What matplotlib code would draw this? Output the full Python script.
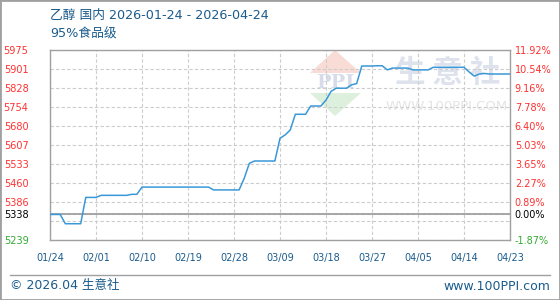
import matplotlib
matplotlib.use('Agg')
import matplotlib.pyplot as plt
from matplotlib.patches import Polygon, Rectangle
from matplotlib.lines import Line2D

plt.rcParams['font.family'] = ['DejaVu Sans', 'Noto Sans CJK SC']

# daily price, 01/24 .. 04/24
base_price = 5338
prices = [5338, 5338, 5338, 5302, 5302, 5302, 5302, 5404, 5404, 5404,
          5412, 5412, 5412, 5412, 5412, 5412, 5416, 5416, 5444, 5444,
          5444, 5444, 5444, 5444, 5444, 5444, 5444, 5444, 5444, 5444,
          5444, 5444, 5433, 5433, 5433, 5433, 5433, 5433, 5478, 5536,
          5545, 5545, 5545, 5545, 5545, 5633, 5646, 5665, 5726, 5726,
          5726, 5758, 5758, 5758, 5781, 5815, 5827, 5827, 5827, 5840,
          5845, 5913, 5913, 5913, 5914, 5914, 5898, 5905, 5905, 5905,
          5905, 5898, 5898, 5898, 5898, 5908, 5908, 5908, 5908, 5908,
          5908, 5908, 5890, 5874, 5882, 5884, 5882, 5882, 5882, 5882,
          5882]
days = list(range(len(prices)))

x_ticks = [0, 9, 18, 27, 36, 45, 54, 63, 72, 81, 90]
x_labels = ['01/24', '02/01', '02/10', '02/19', '02/28', '03/09',
            '03/18', '03/27', '04/05', '04/14', '04/23']

y_ticks = [5239, 5312.6, 5386.2, 5459.8, 5533.4, 5607, 5680.6,
           5754.2, 5827.8, 5901.4, 5975]
y_labels = ['5239', '', '5386', '5460', '5533', '5607', '5680',
            '5754', '5828', '5901', '5975']
pct_labels = ['-1.87%', '', '0.89%', '2.27%', '3.65%', '5.03%', '6.40%',
              '7.78%', '9.16%', '10.54%', '11.92%']

title = '乙醇 国内 2026-01-24 - 2026-04-24'
subtitle = '95%食品级'

W, H = 560, 300
blue = '#1a5b8c'


def px(x, y):
    return (x / W, 1 - y / H)


fig = plt.figure(figsize=(5.6, 3), dpi=100)
ax = fig.add_axes([50 / W, 60 / H, 460 / W, 190 / H])
ax.set_facecolor('none')

ax.plot(days, prices, color='#3a98d8', lw=1.1, zorder=3)
ax.axhline(base_price, color='#a0a0a0', lw=1.3, zorder=2)

ax.set_xlim(0, 90)
ax.set_ylim(y_ticks[0], y_ticks[-1])
ax.set_xticks(x_ticks)
ax.set_xticklabels(x_labels, color=blue, fontsize=7)
ax.set_yticks(y_ticks + [base_price])
ax.set_yticklabels(y_labels + [str(base_price)], fontsize=7)
ax.grid(True, color='#cccccc', linestyle=(0, (3, 2)), lw=0.8, zorder=1)
ax.tick_params(length=0)
ax.tick_params(axis='y', pad=15.5)
ax.tick_params(axis='x', pad=9)
for s in ax.spines.values():
    s.set_color('#a0a0a0')
    s.set_linewidth(1.0)

ax2 = ax.twinx()
ax2.set_ylim(ax.get_ylim())
ax2.set_yticks(y_ticks + [base_price])
ax2.set_yticklabels(pct_labels + ['0.00%'], fontsize=7)
ax2.tick_params(length=0, pad=3.5)
for s in ax2.spines.values():
    s.set_visible(False)


def tick_color(v):
    if abs(v - base_price) < 1:
        return 'black'
    return '#ff3030' if v > base_price else '#33aa33'


for axis in (ax, ax2):
    for lab, v in zip(axis.get_yticklabels(), axis.get_yticks()):
        lab.set_color(tick_color(v))

# titles
fig.text(*px(50, 15), title, color=blue, fontsize=9.2, va='center', ha='left')
fig.text(*px(50, 34), subtitle, color=blue, fontsize=9.2, va='center', ha='left')

# watermark
fig.patches.append(Polygon([px(335, 50), px(310, 73), px(361, 73)],
                           closed=True, transform=fig.transFigure,
                           facecolor='#f9dcd6', edgecolor='none', zorder=-2))
fig.patches.append(Polygon([px(310, 93), px(361, 93), px(335, 116)],
                           closed=True, transform=fig.transFigure,
                           facecolor='#ddf0dd', edgecolor='none', zorder=-2))
fig.text(*px(335, 83), 'PPI', color='#d6dce9', fontsize=14, fontweight='bold',
         family='DejaVu Serif', ha='center', va='center', zorder=-1)
fig.text(*px(448, 73), '生 意 社', color='#dde2ec', fontsize=22,
         fontweight='bold', family=['Noto Sans CJK SC'], ha='center',
         va='center', zorder=-1)
fig.text(*px(447, 107), 'WWW.100PPI.COM', color='#e4e4e4', fontsize=9.5,
         ha='center', va='center', zorder=-1)

# footer
fig.lines.append(Line2D([10 / W, 550 / W], [px(0, 275)[1]] * 2,
                        transform=fig.transFigure, color='#a0a0a0', lw=1))
fig.text(*px(10, 286), '© 2026.04 生意社', color=blue, fontsize=9,
         va='center', ha='left')
fig.text(*px(550, 286), 'www.100PPI.com', color=blue, fontsize=9,
         va='center', ha='right')

fig.patches.append(Rectangle((0, 0), 1, 1, transform=fig.transFigure,
                             fill=False, edgecolor='#a0a0a0', lw=2))

fig.savefig('out.png', dpi=100)
